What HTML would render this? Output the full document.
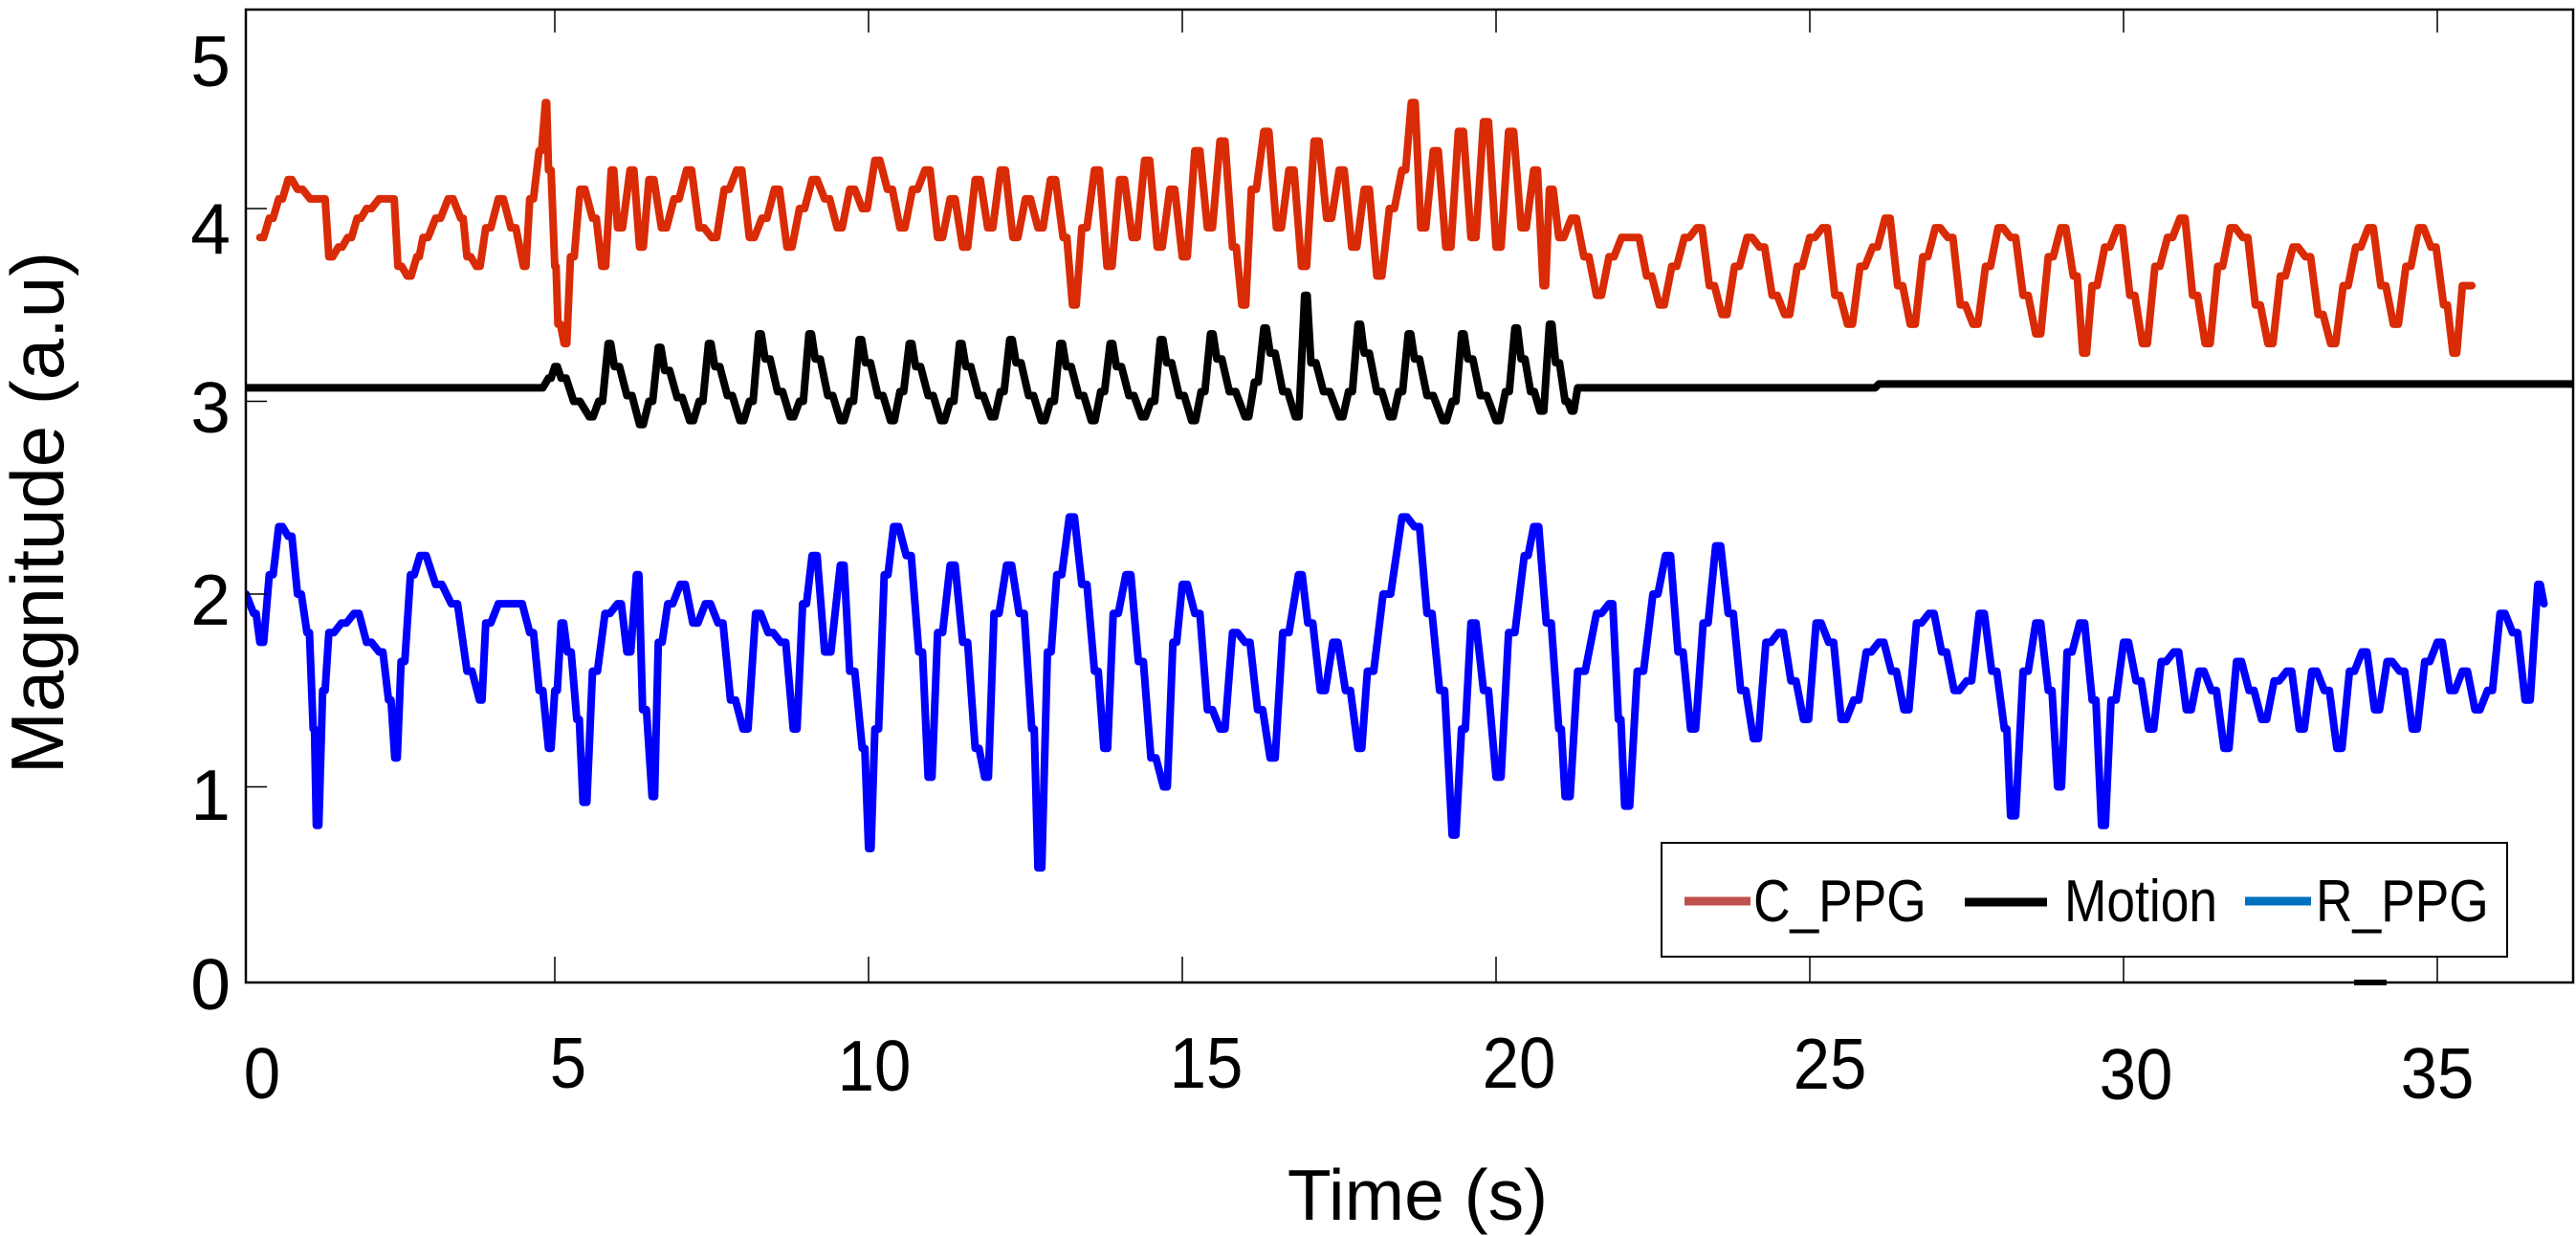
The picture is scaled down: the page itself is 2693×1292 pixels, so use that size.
<!DOCTYPE html>
<html><head><meta charset="utf-8">
<style>
html,body{margin:0;padding:0;background:#fff;}
svg{display:block;}
text{font-family:"Liberation Sans",Arial,sans-serif;fill:#000;}
</style></head>
<body>
<svg id="chart" width="2693" height="1292" viewBox="0 0 2693 1292" xmlns="http://www.w3.org/2000/svg">
<defs><clipPath id="plotclip"><rect x="257" y="10" width="2433" height="1017"/></clipPath></defs>
<rect x="0" y="0" width="2693" height="1292" fill="#fff"/>
<g id="series" clip-path="url(#plotclip)"></g>
<rect x="257" y="10" width="2433" height="1017" fill="none" stroke="#000" stroke-width="2.5"/>
<g id="ticks"></g>
<text x="66" y="536" font-size="78" text-anchor="middle" transform="rotate(-90 66 536)">Magnitude (a.u)</text>
<text x="1482" y="1275" font-size="75" text-anchor="middle">Time (s)</text>
<g>
<rect x="1737" y="881" width="884" height="119" fill="#fff" stroke="#000" stroke-width="2"/>
<line x1="1761" y1="942" x2="1830" y2="942" stroke="#c0504d" stroke-width="9"/>
<text x="1833" y="963" font-size="62" transform="translate(1833 0) scale(0.86 1) translate(-1833 0)">C_PPG</text>
<line x1="2054" y1="943" x2="2140" y2="943" stroke="#000" stroke-width="9"/>
<text x="2158" y="963" font-size="62" transform="translate(2158 0) scale(0.86 1) translate(-2158 0)">Motion</text>
<line x1="2347" y1="942" x2="2416" y2="942" stroke="#0070c0" stroke-width="9"/>
<text x="2421" y="963" font-size="62" transform="translate(2421 0) scale(0.86 1) translate(-2421 0)">R_PPG</text>
</g>
<rect x="2461" y="1024" width="34" height="6" fill="#000"/>
</svg>
<script>
const xTicks=[0,5,10,15,20,25,30,35];
const xTickLabels=["0","5","10","15","20","25","30","35"];
const yTicks=[0,1,2,3,4,5];
const yTickLabels=["0","1","2","3","4","5"];
const redT=[0.3,0.45,0.6,0.75,0.9,1.1,1.3,1.4,1.55,1.7,1.85,2.0,2.2,2.4,2.5,2.65,2.8,2.9,3.1,3.3,3.5,3.6,3.75,3.9,4.1,4.3,4.5,4.6,4.75,4.85,4.9,5.0,5.05,5.15,5.25,5.4,5.6,5.75,5.9,6.0,6.2,6.35,6.5,6.7,6.9,7.1,7.3,7.5,7.7,7.9,8.1,8.3,8.5,8.7,8.9,9.1,9.3,9.5,9.7,9.9,10.1,10.3,10.5,10.7,10.9,11.1,11.3,11.5,11.7,11.9,12.1,12.3,12.5,12.7,12.9,13.1,13.25,13.4,13.6,13.8,14.0,14.2,14.4,14.6,14.8,15.0,15.2,15.4,15.6,15.8,15.95,16.1,16.3,16.5,16.7,16.9,17.1,17.3,17.5,17.7,17.9,18.1,18.3,18.5,18.65,18.8,19.0,19.2,19.4,19.6,19.8,20.0,20.2,20.4,20.6,20.75,20.85,21.0,21.2,21.4,21.6,21.8,22.0,22.2,22.4,22.6,22.8,23.0,23.2,23.4,23.6,23.8,24.0,24.2,24.4,24.6,24.8,25.0,25.2,25.4,25.6,25.8,26.0,26.2,26.4,26.6,26.8,27.0,27.2,27.4,27.6,27.8,28.0,28.2,28.4,28.6,28.8,29.0,29.2,29.35,29.5,29.7,29.9,30.1,30.3,30.5,30.7,30.9,31.1,31.3,31.5,31.7,31.9,32.1,32.3,32.5,32.7,32.9,33.1,33.3,33.5,33.7,33.9,34.1,34.3,34.5,34.7,34.9,35.1,35.25,35.4,35.55];
const redV=[3.85,3.95,4.05,4.15,4.1,4.05,4.05,3.75,3.8,3.85,3.95,4.0,4.05,4.05,3.7,3.65,3.75,3.85,3.95,4.05,3.95,3.75,3.7,3.9,4.05,3.9,3.7,4.05,4.3,4.55,4.2,3.7,3.4,3.3,3.75,4.1,3.95,3.7,4.2,3.9,4.2,3.8,4.15,3.9,4.05,4.2,3.9,3.85,4.1,4.2,3.85,3.95,4.1,3.8,4.0,4.15,4.05,3.9,4.1,4.0,4.25,4.1,3.9,4.1,4.2,3.85,4.05,3.8,4.15,3.9,4.2,3.85,4.05,3.9,4.15,3.85,3.5,3.9,4.2,3.7,4.15,3.85,4.25,3.8,4.1,3.75,4.3,3.9,4.35,3.8,3.5,4.1,4.4,3.9,4.2,3.7,4.35,3.95,4.2,3.8,4.1,3.65,4.0,4.2,4.55,3.9,4.3,3.8,4.4,3.85,4.45,3.8,4.4,3.9,4.2,3.6,4.1,3.85,3.95,3.75,3.55,3.75,3.85,3.85,3.65,3.5,3.7,3.85,3.9,3.6,3.45,3.7,3.85,3.8,3.55,3.45,3.7,3.85,3.9,3.55,3.4,3.7,3.8,3.95,3.6,3.4,3.75,3.9,3.85,3.5,3.4,3.7,3.9,3.85,3.55,3.35,3.75,3.9,3.65,3.25,3.6,3.8,3.9,3.55,3.3,3.7,3.85,3.95,3.55,3.3,3.7,3.9,3.85,3.5,3.3,3.65,3.8,3.75,3.45,3.3,3.6,3.8,3.9,3.6,3.4,3.7,3.9,3.8,3.5,3.25,3.6,3.6];
const motionT=[0,4.75,4.9,5.0,5.1,5.3,5.55,5.7,5.85,5.95,6.15,6.35,6.5,6.65,6.75,6.95,7.15,7.3,7.45,7.55,7.75,7.95,8.1,8.25,8.35,8.55,8.75,8.9,9.05,9.15,9.35,9.55,9.7,9.85,9.95,10.15,10.35,10.5,10.65,10.75,10.95,11.15,11.3,11.45,11.55,11.75,11.95,12.1,12.25,12.35,12.55,12.75,12.9,13.05,13.15,13.35,13.55,13.7,13.85,13.95,14.15,14.35,14.5,14.65,14.75,14.95,15.15,15.3,15.45,15.55,15.75,16.0,16.15,16.3,16.4,16.6,16.8,16.95,17.05,17.25,17.5,17.65,17.8,17.9,18.1,18.3,18.45,18.6,18.7,18.9,19.15,19.3,19.45,19.55,19.75,20.0,20.15,20.3,20.4,20.55,20.7,20.85,20.95,21.1,21.2,21.3,26.0,26.1,37.5];
const motionV=[3.07,3.07,3.12,3.18,3.12,3.0,2.92,3.0,3.3,3.18,3.03,2.88,3.0,3.28,3.16,3.02,2.9,3.0,3.3,3.18,3.03,2.9,3.0,3.35,3.22,3.05,2.92,3.0,3.35,3.22,3.03,2.9,3.0,3.32,3.2,3.03,2.9,3.05,3.3,3.18,3.03,2.9,3.0,3.3,3.18,3.03,2.92,3.05,3.32,3.2,3.03,2.9,3.0,3.3,3.18,3.03,2.9,3.05,3.3,3.18,3.03,2.92,3.0,3.32,3.2,3.03,2.9,3.05,3.35,3.22,3.05,2.92,3.1,3.38,3.25,3.05,2.92,3.55,3.2,3.05,2.92,3.05,3.4,3.25,3.05,2.92,3.05,3.35,3.22,3.03,2.9,3.0,3.35,3.22,3.03,2.9,3.05,3.38,3.22,3.05,2.95,3.4,3.2,3.0,2.95,3.07,3.07,3.09,3.09];
const blueT=[0,0.2,0.3,0.45,0.6,0.75,0.9,1.05,1.15,1.2,1.3,1.4,1.6,1.8,2.0,2.2,2.35,2.45,2.55,2.7,2.85,3.1,3.35,3.6,3.8,3.9,4.1,4.4,4.6,4.75,4.9,5.0,5.1,5.2,5.35,5.45,5.6,5.8,6.0,6.15,6.3,6.4,6.55,6.65,6.8,7.0,7.2,7.4,7.6,7.8,8.0,8.2,8.4,8.6,8.8,8.95,9.1,9.3,9.55,9.7,9.9,10.0,10.1,10.25,10.4,10.6,10.8,10.95,11.1,11.3,11.5,11.7,11.85,12.0,12.2,12.4,12.6,12.7,12.85,13.0,13.2,13.4,13.6,13.75,13.9,14.1,14.3,14.5,14.7,14.85,15.0,15.2,15.4,15.6,15.8,16.0,16.2,16.4,16.6,16.85,17.0,17.2,17.4,17.6,17.8,17.95,18.2,18.5,18.7,18.9,19.1,19.3,19.45,19.6,19.8,20.0,20.2,20.45,20.6,20.8,21.0,21.1,21.3,21.6,21.8,21.95,22.05,22.25,22.5,22.7,22.9,23.1,23.3,23.5,23.7,23.9,24.1,24.3,24.5,24.7,24.9,25.1,25.3,25.5,25.7,25.9,26.1,26.3,26.5,26.7,26.9,27.1,27.3,27.5,27.7,27.9,28.1,28.2,28.4,28.6,28.8,28.95,29.1,29.3,29.5,29.65,29.8,30.0,30.2,30.4,30.6,30.8,31.0,31.2,31.4,31.6,31.8,32.0,32.2,32.4,32.6,32.8,33.0,33.2,33.4,33.6,33.8,34.0,34.2,34.4,34.6,34.8,35.0,35.2,35.4,35.6,35.8,36.0,36.2,36.4,36.6,36.7];
const blueV=[2.0,1.9,1.75,2.1,2.35,2.3,2.0,1.8,1.3,0.8,1.5,1.8,1.85,1.9,1.75,1.7,1.45,1.15,1.65,2.1,2.2,2.05,1.95,1.6,1.45,1.85,1.95,1.95,1.8,1.5,1.2,1.5,1.85,1.7,1.35,0.92,1.6,1.9,1.95,1.7,2.1,1.4,0.95,1.75,1.95,2.05,1.85,1.95,1.85,1.45,1.3,1.9,1.8,1.75,1.3,1.95,2.2,1.7,2.15,1.6,1.2,0.68,1.3,2.1,2.35,2.2,1.7,1.05,1.8,2.15,1.75,1.2,1.05,1.9,2.15,1.9,1.3,0.58,1.7,2.1,2.4,2.05,1.6,1.2,1.9,2.1,1.65,1.15,1.0,1.75,2.05,1.9,1.4,1.3,1.8,1.75,1.4,1.15,1.8,2.1,1.85,1.5,1.75,1.5,1.2,1.6,2.0,2.4,2.35,1.9,1.5,0.75,1.3,1.85,1.5,1.05,1.8,2.2,2.35,1.85,1.3,0.95,1.6,1.9,1.95,1.35,0.9,1.6,2.0,2.2,1.7,1.3,1.85,2.25,1.9,1.5,1.25,1.75,1.8,1.55,1.35,1.85,1.75,1.35,1.45,1.7,1.75,1.6,1.4,1.85,1.9,1.7,1.5,1.55,1.9,1.6,1.3,0.85,1.6,1.85,1.5,1.0,1.7,1.85,1.45,0.8,1.45,1.75,1.55,1.3,1.65,1.7,1.4,1.6,1.5,1.2,1.65,1.5,1.35,1.55,1.6,1.3,1.6,1.5,1.2,1.6,1.7,1.4,1.65,1.6,1.3,1.65,1.75,1.5,1.6,1.4,1.5,1.9,1.8,1.45,2.05,1.95];

const NS='http://www.w3.org/2000/svg';
function xs(t){return 252+65.6*t;}
function ys(v){return 1024-201.5*v;}
function mixPath(T,V){
  // mostly linear segments with short flat holds to mimic the sampled look
  let d='M'+xs(T[0]).toFixed(1)+' '+ys(V[0]).toFixed(1);
  for(let i=1;i<T.length;i++){
    const xa=xs(T[i-1]), xb=xs(T[i]);
    const xm=xa+(xb-xa)*0.4;
    d+=' L'+xm.toFixed(1)+' '+ys(V[i-1]).toFixed(1)+' L'+xb.toFixed(1)+' '+ys(V[i]).toFixed(1);
  }
  return d;
}
const g=document.getElementById('series');
function addSeries(T,V,color,name){
  const p=document.createElementNS(NS,'path');
  p.setAttribute('d',mixPath(T,V));
  p.setAttribute('fill','none');
  p.setAttribute('stroke',color);
  p.setAttribute('stroke-width','8');
  p.setAttribute('stroke-linejoin','round');
  p.setAttribute('stroke-linecap','round');
  
  
  g.appendChild(p);
}
addSeries(blueT,blueV,'#0000ff','r-ppg-line');
addSeries(redT,redV,'#d92b05','c-ppg-line');
addSeries(motionT,motionV,'#000000','motion-line');

const tg=document.getElementById('ticks');
const xBase=[1148,1137,1140,1137,1137,1138,1149,1148];
const xOff=[22,14,6,25,24,21,13,0];
xTicks.forEach((t,i)=>{
  const x=xs(t);
  if(t>0){
    const l1=document.createElementNS(NS,'line');
    l1.setAttribute('x1',x);l1.setAttribute('x2',x);l1.setAttribute('y1',1027);l1.setAttribute('y2',1000);
    l1.setAttribute('stroke','#000');l1.setAttribute('stroke-width','1.5');
    
    
    tg.appendChild(l1);
    const l2=document.createElementNS(NS,'line');
    l2.setAttribute('x1',x);l2.setAttribute('x2',x);l2.setAttribute('y1',10);l2.setAttribute('y2',34);
    l2.setAttribute('stroke','#000');l2.setAttribute('stroke-width','1.5');
    
    
    tg.appendChild(l2);
  }
  const tx=document.createElementNS(NS,'text');
  const cx=x+xOff[i];
  tx.setAttribute('x',cx);tx.setAttribute('y',xBase[i]);
  tx.setAttribute('font-size','75');tx.setAttribute('text-anchor','middle');
  tx.setAttribute('transform','translate('+cx+' 0) scale(0.92 1) translate('+(-cx)+' 0)');
  tx.textContent=xTickLabels[i];
  
  
  tg.appendChild(tx);
});
const yBase=[1055,857,653,452,265,90];
yTicks.forEach((v,i)=>{
  const y=ys(v);
  if(v>0&&v<5){
    const l=document.createElementNS(NS,'line');
    l.setAttribute('x1',257);l.setAttribute('x2',279);l.setAttribute('y1',y);l.setAttribute('y2',y);
    l.setAttribute('stroke','#000');l.setAttribute('stroke-width','1.5');
    
    
    tg.appendChild(l);
  }
  const tx=document.createElementNS(NS,'text');
  tx.setAttribute('x',241);tx.setAttribute('y',yBase[i]);
  tx.setAttribute('font-size','75');tx.setAttribute('text-anchor','end');
  tx.textContent=yTickLabels[i];
  
  
  tg.appendChild(tx);
});
</script>
</body></html>
